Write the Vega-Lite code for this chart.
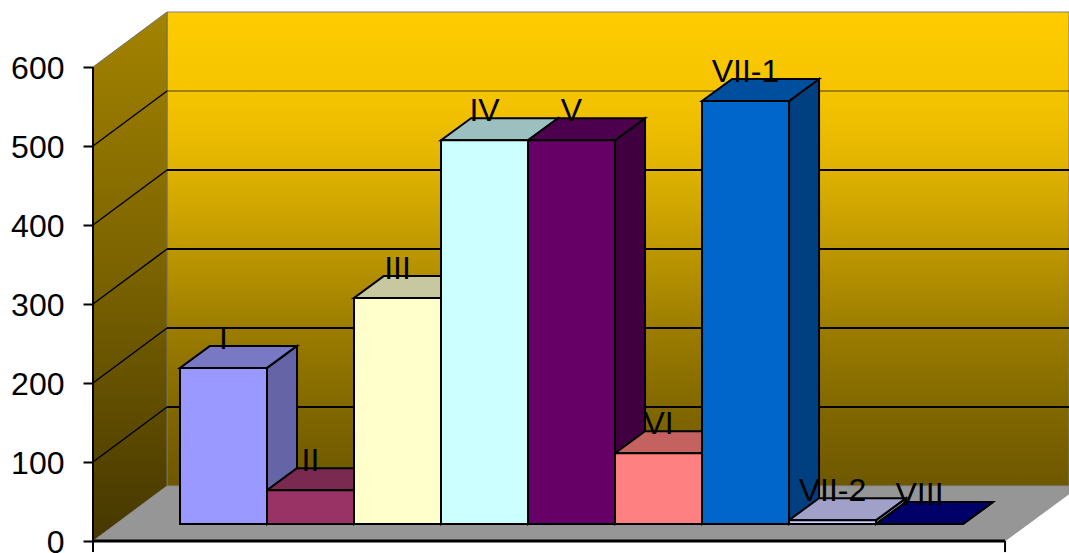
{"$schema":"https://vega.github.io/schema/vega-lite/v6.json","width":976,"height":553,"autosize":{"type":"none"},"padding":{"left":93,"top":0,"right":0,"bottom":0},"background":"white","view":{"stroke":null},
"datasets":{
"bars":[{"bar":"I","left":0,"right":1,"mid":0.5,"value":203},{"bar":"II","left":1,"right":2,"mid":1.5,"value":44},{"bar":"III","left":2,"right":3,"mid":2.5,"value":294},{"bar":"IV","left":3,"right":4,"mid":3.5,"value":499},{"bar":"V","left":4,"right":5,"mid":4.5,"value":499},{"bar":"VI","left":5,"right":6,"mid":5.5,"value":92},{"bar":"VII-1","left":6,"right":7,"mid":6.5,"value":550},{"bar":"VII-2","left":7,"right":8,"mid":7.5,"value":5},{"bar":"VIII","left":8,"right":9,"mid":8.5,"value":0}],
"depth":[{"bar":"I","left":0,"right":1,"top":203,"base":0},{"bar":"I","left":0.345,"right":1.345,"top":231.6,"base":28.6},{"bar":"II","left":1,"right":2,"top":44,"base":0},{"bar":"II","left":1.345,"right":2.345,"top":72.6,"base":28.6},{"bar":"III","left":2,"right":3,"top":294,"base":0},{"bar":"III","left":2.345,"right":3.345,"top":322.6,"base":28.6},{"bar":"IV","left":3,"right":4,"top":499,"base":0},{"bar":"IV","left":3.345,"right":4.345,"top":527.6,"base":28.6},{"bar":"V","left":4,"right":5,"top":499,"base":0},{"bar":"V","left":4.345,"right":5.345,"top":527.6,"base":28.6},{"bar":"VI","left":5,"right":6,"top":92,"base":0},{"bar":"VI","left":5.345,"right":6.345,"top":120.6,"base":28.6},{"bar":"VII-1","left":6,"right":7,"top":550,"base":0},{"bar":"VII-1","left":6.345,"right":7.345,"top":578.6,"base":28.6},{"bar":"VII-2","left":7,"right":8,"top":5,"base":0},{"bar":"VII-2","left":7.345,"right":8.345,"top":33.6,"base":28.6},{"bar":"VIII","left":8,"right":9,"top":0,"base":0},{"bar":"VIII","left":8.345,"right":9.345,"top":28.6,"base":28.6}],
"grid":[{"tick":100,"x":-1,"v":100},{"tick":100,"x":-0.149,"v":169.6},{"tick":200,"x":-1,"v":200},{"tick":200,"x":-0.149,"v":269.6},{"tick":300,"x":-1,"v":300},{"tick":300,"x":-0.149,"v":369.6},{"tick":400,"x":-1,"v":400},{"tick":400,"x":-0.149,"v":469.6},{"tick":500,"x":-1,"v":500},{"tick":500,"x":-0.149,"v":569.6}],
"back":[{"tick":100,"v":169.6},{"tick":200,"v":269.6},{"tick":300,"v":369.6},{"tick":400,"v":469.6},{"tick":500,"v":569.6}]
},
"layer":[
{"data":{"values":[{"x":-0.149,"x2":10.218,"v":69.6,"v2":669.6}]},"mark":{"type":"rect","stroke":"#7f7f7f","strokeWidth":1,"color":{"gradient":"linear","x1":0,"y1":0,"x2":0,"y2":1,"stops":[{"offset":0,"color":"#FFCC00"},{"offset":0.19,"color":"#F4C300"},{"offset":0.33,"color":"#E0B300"},{"offset":0.5,"color":"#BE9800"},{"offset":0.667,"color":"#9C7D00"},{"offset":0.83,"color":"#826800"},{"offset":1,"color":"#6E5800"}]}},
"encoding":{"x":{"field":"x","type":"quantitative","scale":{"domain":[-1,10.218],"nice":false},"axis":null},"x2":{"field":"x2"},"y":{"field":"v","type":"quantitative","scale":{"domain":[-15.19,684.8],"nice":false},"axis":{"values":[0,100,200,300,400,500,600],"orient":"left","domain":false,"grid":false,"title":null,"tickSize":10,"tickWidth":2,"tickColor":"black","labelFont":"Liberation Sans","labelFontSize":32,"labelColor":"black","labelPadding":19,"labelOffset":2,"labelBound":false,"labelFlush":false,"labelOverlap":false}},"y2":{"field":"v2"}}},
{"data":{"values":[{"x":-1,"v":0,"v2":600},{"x":-0.149,"v":69.6,"v2":669.6}]},"mark":{"type":"area","stroke":"#6f6f6f","strokeWidth":1,"color":{"gradient":"linear","x1":0,"y1":0,"x2":0,"y2":1,"stops":[{"offset":0,"color":"#A38300"},{"offset":0.5,"color":"#7A6200"},{"offset":1,"color":"#453700"}]}},
"encoding":{"x":{"field":"x","type":"quantitative","scale":{"domain":[-1,10.218],"nice":false},"axis":null},"y":{"field":"v","type":"quantitative","scale":{"domain":[-15.19,684.8],"nice":false},"axis":null},"y2":{"field":"v2"}}},
{"data":{"values":[{"v":0,"x":-1,"x2":9.483},{"v":59.5,"x":-0.276,"x2":10.218},{"v":69.6,"x":-0.149,"x2":10.218}]},"mark":{"type":"area","orient":"horizontal","color":"#969696","stroke":"#808080","strokeWidth":0.5},
"encoding":{"y":{"field":"v","type":"quantitative","scale":{"domain":[-15.19,684.8],"nice":false},"axis":null},"x":{"field":"x","type":"quantitative","scale":{"domain":[-1,10.218],"nice":false},"axis":null},"x2":{"field":"x2"}}},
{"data":{"name":"grid"},"mark":{"type":"line","color":"black","strokeWidth":1.5},
"encoding":{"x":{"field":"x","type":"quantitative","scale":{"domain":[-1,10.218],"nice":false},"axis":null},"y":{"field":"v","type":"quantitative","scale":{"domain":[-15.19,684.8],"nice":false},"axis":null},"detail":{"field":"tick"}}},
{"data":{"name":"back"},"mark":{"type":"rule","color":"black"},
"encoding":{"x":{"datum":-0.149,"type":"quantitative","scale":{"domain":[-1,10.218],"nice":false},"axis":null},"x2":{"datum":10.218},"y":{"field":"v","type":"quantitative","scale":{"domain":[-15.19,684.8],"nice":false},"axis":null},"strokeWidth":{"condition":{"test":"datum.tick==500","value":1},"value":2},"opacity":{"condition":{"test":"datum.tick==500","value":0.7},"value":1}}},
{"data":{"name":"depth"},"mark":{"type":"area","stroke":"black","strokeWidth":2},
"encoding":{"x":{"field":"right","type":"quantitative","scale":{"domain":[-1,10.218],"nice":false},"axis":null},"y":{"field":"top","type":"quantitative","scale":{"domain":[-37.7,681.4],"nice":false},"axis":null},"y2":{"field":"base"},"fill":{"field":"bar","type":"nominal","legend":null,"scale":{"domain":["I","II","III","IV","V","VI","VII-1","VII-2","VIII"],"range":["#6464A6","#662244","#A8A888","#88A8A8","#400040","#A65050","#004080","#8888AA","#000068"]}}}},
{"data":{"name":"depth"},"mark":{"type":"area","orient":"horizontal","stroke":"black","strokeWidth":2},
"encoding":{"y":{"field":"top","type":"quantitative","scale":{"domain":[-37.7,681.4],"nice":false},"axis":null},"x":{"field":"left","type":"quantitative","scale":{"domain":[-1,10.218],"nice":false},"axis":null},"x2":{"field":"right"},"fill":{"field":"bar","type":"nominal","legend":null,"scale":{"domain":["I","II","III","IV","V","VI","VII-1","VII-2","VIII"],"range":["#7878C4","#7A2950","#C8C8A0","#9CC0C0","#4D004D","#C46260","#004F9F","#A0A0C8","#000068"]}}}},
{"data":{"name":"bars"},"mark":{"type":"rect","stroke":"black","strokeWidth":2},
"encoding":{"x":{"field":"left","type":"quantitative","scale":{"domain":[-1,10.218],"nice":false},"axis":null},"x2":{"field":"right"},"y":{"field":"value","type":"quantitative","scale":{"domain":[-37.7,681.4],"nice":false},"axis":null},"y2":{"datum":0},"fill":{"field":"bar","type":"nominal","legend":null,"scale":{"domain":["I","II","III","IV","V","VI","VII-1","VII-2","VIII"],"range":["#9999FF","#993366","#FFFFCC","#CCFFFF","#660066","#FF8080","#0066CC","#CCCCFF","#000080"]}}}},
{"data":{"values":[{"x":-1,"x2":9.483,"v":0}]},"mark":{"type":"rule","color":"black","strokeWidth":3},
"encoding":{"x":{"field":"x","type":"quantitative","scale":{"domain":[-1,10.218],"nice":false},"axis":null},"x2":{"field":"x2"},"y":{"field":"v","type":"quantitative","scale":{"domain":[-15.19,684.8],"nice":false},"axis":null}}},
{"data":{"values":[{"x":-1,"v":-14,"v2":600},{"x":9.483,"v":-14,"v2":0}]},"mark":{"type":"rule","color":"black","strokeWidth":2},
"encoding":{"x":{"field":"x","type":"quantitative","scale":{"domain":[-1,10.218],"nice":false},"axis":null},"y":{"field":"v","type":"quantitative","scale":{"domain":[-15.19,684.8],"nice":false},"axis":null},"y2":{"field":"v2"}}},
{"data":{"name":"bars"},"mark":{"type":"text","font":"Liberation Sans","fontSize":32,"color":"black","baseline":"middle","align":"center","dy":-29},
"encoding":{"x":{"field":"mid","type":"quantitative","scale":{"domain":[-1,10.218],"nice":false},"axis":null},"y":{"field":"value","type":"quantitative","scale":{"domain":[-37.7,681.4],"nice":false},"axis":null},"text":{"field":"bar"}}}
],
"resolve":{"scale":{"y":"independent","fill":"independent"}}}
